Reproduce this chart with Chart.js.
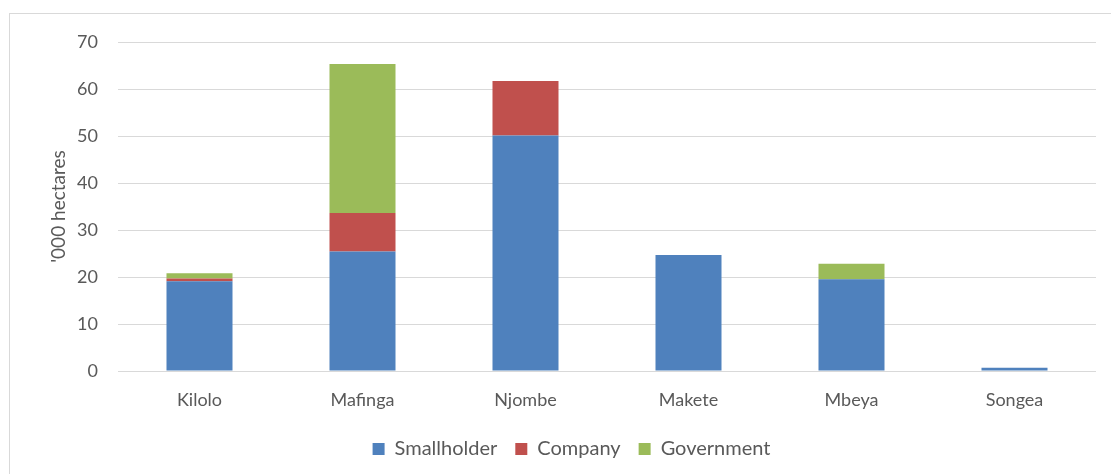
<!DOCTYPE html>
<html>
<head>
<meta charset="utf-8">
<script src="https://cdn.jsdelivr.net/npm/chart.js@4"></script>
<style>
	html, body { margin: 0; padding: 0; background: #fff; }
	#wrap { position: relative; width: 1111px; height: 474px; }
	#frame { position: absolute; left: 9px; top: 13px; right: 0; bottom: 0;
		border-left: 1px solid #d9d9d9; border-top: 1px solid #d9d9d9; pointer-events: none; }
</style>
</head>
<body>
<div id="wrap">
	<canvas id="areaChart" width="1111" height="474"></canvas>
	<div id="frame"></div>
</div>
<script>
const districts = ['Kilolo', 'Mafinga', 'Njombe', 'Makete', 'Mbeya', 'Songea'];
const smallholder = [19.1, 25.4, 50.1, 24.7, 19.5, 0.7];
const company = [0.6, 8.2, 11.6, 0, 0, 0];
const government = [1.1, 31.7, 0, 0, 3.3, 0];
const yTicks = [0, 10, 20, 30, 40, 50, 60, 70];

document.addEventListener('DOMContentLoaded', () => {
	const textColor = '#595959';
	const font = {family: 'Lato, "Open Sans", sans-serif', size: 18};
	const series = [
		{label: 'Smallholder', data: smallholder, color: '#4f81bd'},
		{label: 'Company', data: company, color: '#c0504d'},
		{label: 'Government', data: government, color: '#9bbb59'}
	];

	new Chart(document.getElementById('areaChart'), {
		type: 'bar',
		data: {
			labels: districts,
			datasets: series.map(s => ({
				label: s.label,
				data: s.data,
				backgroundColor: s.color,
				borderWidth: 0,
				categoryPercentage: 0.81,
				barPercentage: 0.5
			}))
		},
		options: {
			responsive: false,
			animation: false,
			layout: {padding: {left: 47, right: 15, top: 42, bottom: 5}},
			plugins: {
				tooltip: {enabled: false},
				legend: {
					position: 'bottom',
					labels: {
						color: textColor,
						font: {family: font.family, size: 20},
						boxWidth: 12,
						boxHeight: 12,
						padding: 18
					}
				}
			},
			scales: {
				x: {
					stacked: true,
					grid: {display: false, drawTicks: false},
					border: {display: false},
					ticks: {color: textColor, font: font, padding: 18},
					afterFit: scale => { scale.height = 50; }
				},
				y: {
					stacked: true,
					min: 0,
					max: 70,
					afterBuildTicks: scale => { scale.ticks = yTicks.map(v => ({value: v})); },
					grid: {color: '#d9d9d9', lineWidth: 1, drawTicks: false},
					border: {display: false},
					ticks: {color: textColor, font: font, padding: 20},
					title: {
						display: true,
						text: "'000 hectares",
						color: textColor,
						font: {family: font.family, size: 19},
						padding: 0
					},
					afterFit: scale => { scale.width = 71; }
				}
			}
		}
	});
});
</script>
</body>
</html>
